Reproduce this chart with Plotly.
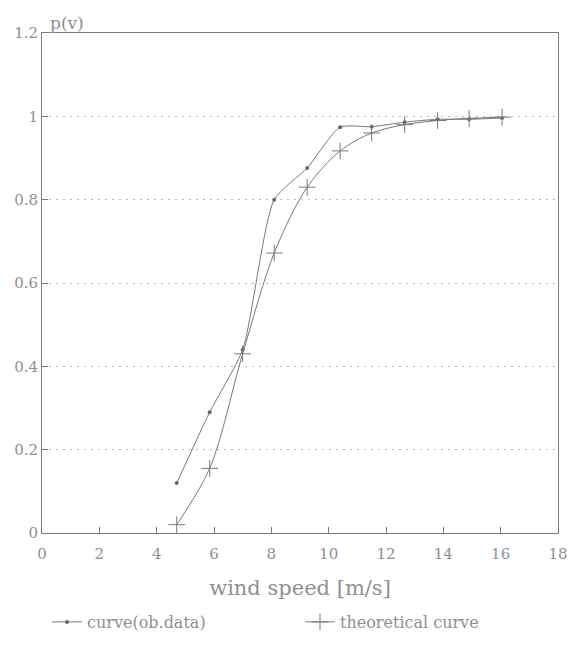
import plotly.graph_objects as go

# Data
wind_obs = [4.7, 5.85, 7.0, 8.1, 9.25, 10.4, 11.5, 12.65, 13.8, 14.9, 16.05]
p_obs = [0.12, 0.29, 0.44, 0.80, 0.876, 0.974, 0.975, 0.986, 0.993, 0.993, 0.996]

wind_theo = [4.7, 5.85, 7.0, 8.1, 9.25, 10.4, 11.5, 12.65, 13.8, 14.9, 16.05]
p_theo = [0.02, 0.155, 0.43, 0.672, 0.83, 0.917, 0.96, 0.98, 0.99, 0.995, 0.998]

x_ticks = [0, 2, 4, 6, 8, 10, 12, 14, 16, 18]
y_ticks = [0, 0.2, 0.4, 0.6, 0.8, 1, 1.2]

FONT = "DejaVu Serif"
LINE = "#7a7a7a"
TXT = "#8f8f8f"

fig = go.Figure()
fig.add_trace(go.Scatter(
    x=wind_obs, y=p_obs, mode="lines+markers", name="curve(ob.data)",
    line=dict(color=LINE, width=1, shape="spline", smoothing=0.6),
    marker=dict(symbol="circle", size=4, color="#666"),
))
fig.add_trace(go.Scatter(
    x=wind_theo, y=p_theo, mode="lines+markers", name="theoretical curve",
    line=dict(color=LINE, width=1, shape="spline", smoothing=0.9),
    marker=dict(symbol="cross-thin", size=12, color=LINE,
                line=dict(color=LINE, width=1)),
))

fig.update_layout(
    width=570, height=648,
    margin=dict(l=42, r=12, t=33, b=115, autoexpand=False),
    paper_bgcolor="white", plot_bgcolor="white",
    font=dict(family=FONT, color=TXT, size=14),
    showlegend=True,
    legend=dict(orientation="h", x=0.5, xanchor="center", y=-0.178, yanchor="middle",
                font=dict(family=FONT, size=16, color=TXT), entrywidth=208,
                bgcolor="rgba(0,0,0,0)"),
    xaxis=dict(range=[0, 18], tickvals=x_ticks, ticks="inside", ticklen=6,
               tickcolor=LINE, showline=True, linecolor=LINE, linewidth=1, mirror=True,
               showgrid=False, zeroline=False, ticklabelstandoff=7,
               tickfont=dict(family=FONT, size=15, color=TXT),
               title=dict(text="wind speed [m/s]", standoff=18,
                          font=dict(family=FONT, size=21, color=TXT))),
    yaxis=dict(range=[0, 1.2], tickvals=y_ticks, ticks="inside", ticklen=6,
               tickcolor=LINE, showline=True, linecolor=LINE, linewidth=1, mirror=True,
               showgrid=True, gridcolor="#b8b8b8", griddash="2px,5px", gridwidth=1,
               zeroline=False,
               tickfont=dict(family=FONT, size=15, color=TXT)),
    annotations=[dict(text="p(v)", xref="paper", yref="paper", x=0.012, y=1.0,
                      xanchor="left", yanchor="bottom", showarrow=False, yshift=-2,
                      font=dict(family=FONT, size=17, color=TXT))],
)

fig.write_html("out.html")
